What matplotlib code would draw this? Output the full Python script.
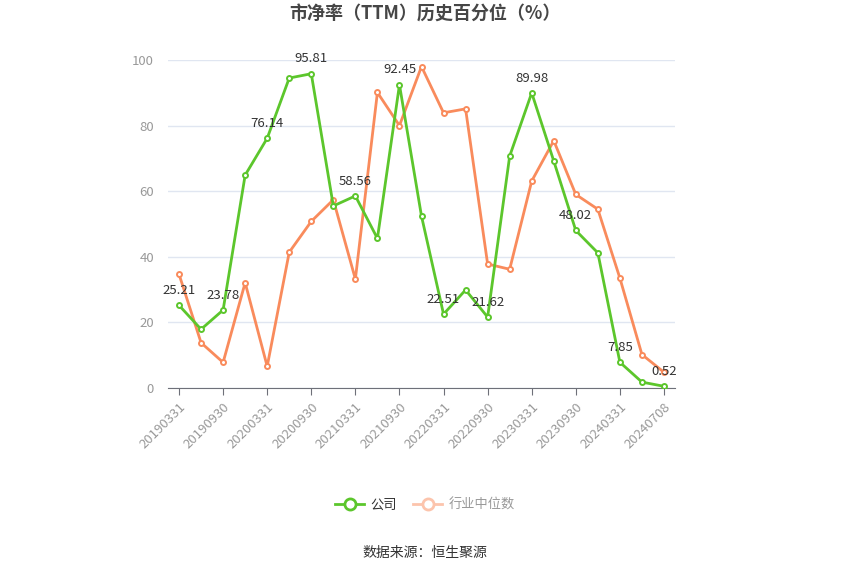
import matplotlib.pyplot as plt
from matplotlib.lines import Line2D

plt.rcParams['font.family'] = ['Noto Sans CJK SC', 'DejaVu Sans']

# Data
dates = ['20190331', '20190630', '20190930', '20191231', '20200331', '20200630',
         '20200930', '20201231', '20210331', '20210630', '20210930', '20211231',
         '20220331', '20220630', '20220930', '20221231', '20230331', '20230630',
         '20230930', '20231231', '20240331', '20240630', '20240708']
company = [25.21, 17.9, 23.78, 64.9, 76.14, 94.5, 95.81, 55.5, 58.56, 45.6,
           92.45, 52.4, 22.51, 29.9, 21.62, 70.7, 89.98, 69.2, 48.02, 41.2,
           7.85, 1.8, 0.52]
industry = [34.7, 13.8, 7.8, 32.1, 6.6, 41.4, 50.8, 57.4, 33.2, 90.1, 80.0,
            98.0, 83.9, 85.1, 37.8, 36.2, 63.1, 75.4, 59.0, 54.5, 33.5, 10.2, 4.8]
tick_idx = [0, 2, 4, 6, 8, 10, 12, 14, 16, 18, 20, 22]
label_idx = [0, 2, 4, 6, 8, 10, 12, 14, 16, 18, 20, 22]

green = '#5CC62C'
orange = '#F98B5C'
gray = '#999999'

fig = plt.figure(figsize=(8.5, 5.75), dpi=100)
ax = fig.add_axes([168 / 850, 1 - 388 / 575, 507 / 850, 328 / 575])

x = list(range(len(dates)))
ax.plot(x, industry, color=orange, lw=2, marker='o', ms=3.6, mfc='white',
        mec=orange, mew=1.4, zorder=3)
ax.plot(x, company, color=green, lw=2, marker='o', ms=3.6, mfc='white',
        mec=green, mew=1.4, zorder=4)

for i in label_idx:
    ax.annotate(f'{company[i]:.2f}', (i, company[i]), xytext=(0, 6),
                textcoords='offset points', ha='center', va='bottom',
                fontsize=9.5, color='#333333', zorder=5)

ax.set_xlim(-0.5, len(dates) - 0.5)
ax.set_ylim(0, 100)
ax.set_yticks([0, 20, 40, 60, 80, 100])
ax.yaxis.grid(True, color='#E0E6F1', lw=1)
ax.set_axisbelow(True)
for s in ['top', 'right', 'left']:
    ax.spines[s].set_visible(False)
ax.spines['bottom'].set_color('#6E7079')
ax.tick_params(axis='y', length=0, labelcolor=gray, labelsize=9.5, pad=10)
ax.set_xticks(tick_idx)
ax.set_xticklabels([dates[i] for i in tick_idx], rotation=45, ha='right',
                   rotation_mode='anchor', color=gray, fontsize=9.5)
ax.tick_params(axis='x', length=5, color='#6E7079', pad=4)

fig.text(0.5, 1 - 14 / 575, '市净率（TTM）历史百分位（%）', ha='center', va='center',
         fontsize=13, fontweight='bold', color='#464646')

handles = [Line2D([], [], color=green, lw=2, marker='o', ms=8, mfc='white',
                  mec=green, mew=2),
           Line2D([], [], color='#FCC4AC', lw=2, marker='o', ms=8, mfc='white',
                  mec='#FCC4AC', mew=2)]
leg = fig.legend(handles, ['公司', '行业中位数'], loc='center',
                 bbox_to_anchor=(0.5, 1 - 505 / 575), ncol=2, frameon=False,
                 fontsize=9.5, handlelength=2.2, columnspacing=1.2,
                 handletextpad=0.5)
leg.get_texts()[0].set_color('#333333')
leg.get_texts()[1].set_color('#999999')

fig.text(0.5, 1 - 553 / 575, '数据来源：恒生聚源', ha='center', va='center',
         fontsize=10, color='#333333')

fig.savefig('out.png', dpi=100)
